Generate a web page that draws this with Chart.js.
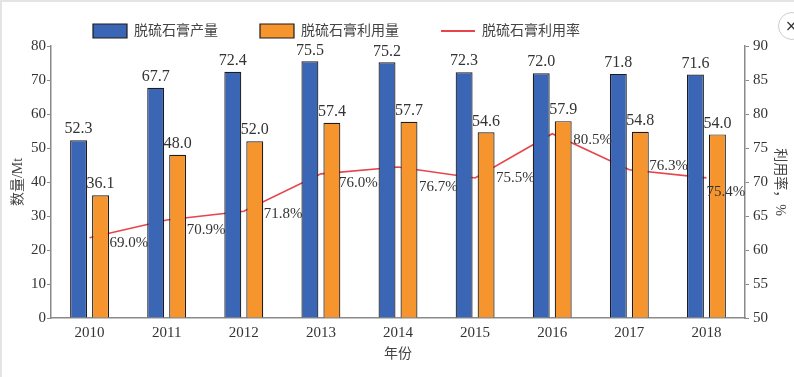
<!DOCTYPE html>
<html>
<head>
<meta charset="utf-8">
<script src="https://cdn.jsdelivr.net/npm/chart.js@4.4.1/dist/chart.umd.min.js"></script>
<style>
  html, body { margin: 0; padding: 0; background: #fff; }
  #wrap { position: relative; width: 794px; height: 377px; overflow: hidden; }
  #wrap:before { content: ''; position: absolute; left: 0; top: 0; right: 0; bottom: 0;
    border-top: 2px solid #e4e4e4; border-left: 2px solid #e4e4e4; pointer-events: none; }
  #close { position: absolute; left: 778px; top: 12px; width: 26px; height: 26px;
    border: 1px solid #ccc; border-radius: 50%; font: 15px "DejaVu Sans"; line-height: 26px;
    text-indent: 6px; color: #333; }
</style>
</head>
<body>
<div id="wrap">
  <canvas id="myChart" width="794" height="377"></canvas>
  <div id="close">×</div>
</div>
<script>
const years = ['2010', '2011', '2012', '2013', '2014', '2015', '2016', '2017', '2018'];
const output = [52.3, 67.7, 72.4, 75.5, 75.2, 72.3, 72.0, 71.8, 71.6];
const used = [36.1, 48.0, 52.0, 57.4, 57.7, 54.6, 57.9, 54.8, 54.0];
// where the red line sits on the right axis in the picture
const rateLine = [61.8, 64.4, 65.7, 71.2, 72.2, 70.6, 77.1, 71.8, 70.6];
// the labels printed next to it
const rateLabels = ['69.0%', '70.9%', '71.8%', '76.0%', '76.7%', '75.5%', '80.5%', '76.3%', '75.4%'];

const serif = '"Liberation Serif", "DejaVu Serif", serif';
const cjk = '"Liberation Serif", "Noto Sans CJK SC", sans-serif';
const axisGray = '#8a8a8a';

// bar values and rate labels
const valueLabels = {
  id: 'valueLabels',
  afterDatasetsDraw(chart) {
    const ctx = chart.ctx;
    ctx.save();
    ctx.fillStyle = '#333';
    ctx.font = '16px ' + serif;
    ctx.textAlign = 'center';
    ctx.textBaseline = 'bottom';
    [0, 1].forEach(i => {
      const vals = chart.data.datasets[i].data;
      chart.getDatasetMeta(i).data.forEach((bar, j) => {
        ctx.fillText(vals[j].toFixed(1), bar.x, bar.y - 3);
      });
    });
    ctx.font = '15px ' + serif;
    ctx.textAlign = 'left';
    ctx.textBaseline = 'middle';
    const shift = [[20, 5], [20, 10], [20, 3], [18, 9], [21, 20], [21, 0], [21, 6], [20, -4], [0, 14]];
    chart.getDatasetMeta(2).data.forEach((pt, j) => {
      ctx.fillText(rateLabels[j], pt.x + shift[j][0], pt.y + shift[j][1]);
    });
    ctx.restore();
  }
};

// legend sits higher and further left than chart.js would put it
const legendFit = {
  id: 'legendFit',
  beforeInit(chart) {
    const lg = chart.legend;
    const fit = lg.fit;
    lg.fit = function () {
      fit.call(this);
      this.height = 64;
    };
  }
};

const config = {
  data: {
    labels: years,
    datasets: [
      {
        type: 'bar',
        label: '脱硫石膏产量',
        data: output,
        backgroundColor: '#3b66b5',
        borderColor: '#1c1c1c',
        borderWidth: 1.2,
        categoryPercentage: 0.57,
        barPercentage: 0.77,
        yAxisID: 'y',
        order: 1
      },
      {
        type: 'bar',
        label: '脱硫石膏利用量',
        data: used,
        backgroundColor: '#f6952d',
        borderColor: '#1c1c1c',
        borderWidth: 1.2,
        categoryPercentage: 0.57,
        barPercentage: 0.77,
        yAxisID: 'y',
        order: 1
      },
      {
        type: 'line',
        label: '脱硫石膏利用率',
        data: rateLine,
        borderColor: '#e8444b',
        backgroundColor: '#e8444b',
        borderWidth: 1.6,
        pointRadius: 0,
        tension: 0,
        yAxisID: 'y1',
        order: 2
      }
    ]
  },
  options: {
    responsive: false,
    animation: false,
    layout: { padding: { top: -18, left: 0, right: 0, bottom: 0 } },
    plugins: {
      tooltip: { enabled: false },
      legend: {
        position: 'top',
        align: 'start',
        fullSize: false,
        labels: {
          usePointStyle: true,
          pointStyleWidth: 34,
          boxHeight: 14,
          padding: 42,
          color: '#444',
          font: { family: cjk, size: 14 },
          generateLabels(chart) {
            const items = Chart.defaults.plugins.legend.labels.generateLabels(chart);
            items.forEach(it => {
              if (it.datasetIndex === 2) {
                it.pointStyle = 'line';
                it.lineWidth = 2;
              } else {
                it.pointStyle = 'rect';
                it.lineWidth = 1.2;
              }
            });
            return items;
          }
        }
      }
    },
    scales: {
      x: {
        grid: { display: false, drawTicks: false },
        border: { color: axisGray, width: 1.5 },
        ticks: { color: '#333', padding: 6, font: { family: serif, size: 15 } },
        title: {
          display: true, text: '年份', color: '#444',
          font: { family: cjk, size: 14 }, padding: { top: 0, bottom: 14 }
        },
        afterFit(s) { s.height = 59; }
      },
      y: {
        position: 'left',
        min: 0,
        max: 80,
        grid: { drawOnChartArea: false, drawTicks: true, tickLength: 4, color: axisGray },
        border: { color: axisGray, width: 1.5 },
        ticks: { stepSize: 10, color: '#333', padding: 1, font: { family: serif, size: 15 } },
        title: {
          display: true, text: '数量/Mt', color: '#444',
          font: { family: cjk, size: 14 }, padding: { top: 10 }
        },
        afterFit(s) { s.width = 51; }
      },
      y1: {
        position: 'right',
        min: 50,
        max: 90,
        grid: { drawOnChartArea: false, drawTicks: true, tickLength: 4, color: axisGray },
        border: { color: axisGray, width: 1.5 },
        ticks: { stepSize: 5, color: '#333', padding: 4, font: { family: serif, size: 15 } },
        title: {
          display: true, text: '利用率，%', color: '#444',
          font: { family: cjk, size: 14 }, padding: { top: 6 }
        },
        afterFit(s) { s.width = 49; }
      }
    }
  },
  plugins: [legendFit, valueLabels]
};

const myChart = new Chart(document.getElementById('myChart'), config);
</script>
</body>
</html>
